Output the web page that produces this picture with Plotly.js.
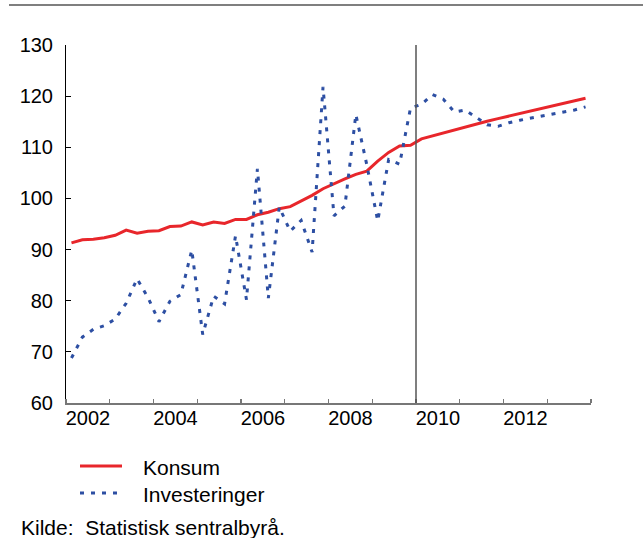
<!DOCTYPE html>
<html>
<head>
<meta charset="utf-8">
<script src="https://cdn.plot.ly/plotly-3.0.1.min.js"></script>
<style>
html,body{margin:0;padding:0;background:#fff;}
#chart{width:643px;height:538px;}
</style>
</head>
<body>
<div id="chart"></div>
<script>
// Quarterly categories (2002 Q1 – 2013 Q4)
var quarters = [
  "2002K1","2002K2","2002K3","2002K4","2003K1","2003K2","2003K3","2003K4",
  "2004K1","2004K2","2004K3","2004K4","2005K1","2005K2","2005K3","2005K4",
  "2006K1","2006K2","2006K3","2006K4","2007K1","2007K2","2007K3","2007K4",
  "2008K1","2008K2","2008K3","2008K4","2009K1","2009K2","2009K3","2009K4",
  "2010K1","2010K2","2010K3","2010K4","2011K1","2011K2","2011K3","2011K4",
  "2012K1","2012K2","2012K3","2012K4","2013K1","2013K2","2013K3","2013K4"
];
var konsum = [
  91.3, 91.9, 92.0, 92.3, 92.8, 93.8, 93.2, 93.6,
  93.7, 94.5, 94.6, 95.4, 94.8, 95.4, 95.1, 95.9,
  95.9, 96.8, 97.3, 98.0, 98.4, 99.5, 100.6, 101.9,
  102.9, 103.8, 104.7, 105.35, 107.3, 109.0, 110.25, 110.4,
  111.65, 112.25, 112.7, 113.3, 113.9, 114.5, 115.1, 115.6,
  116.1, 116.5, 117.0, 117.5, 118.0, 118.5, 119.0, 119.6
];
var investeringer = [
  68.8, 72.9, 74.4, 75.1, 76.4, 79.5, 84.3, 80.6,
  75.9, 79.9, 81.2, 89.9, 73.4, 80.9, 79.4, 92.7,
  80.2, 105.8, 80.5, 98.3, 93.6, 95.7, 89.5, 121.8,
  96.6, 98.5, 116.4, 106.6, 95.6, 107.6, 106.7, 117.7,
  118.4, 120.3, 119.4, 116.9, 117.3, 115.8, 114.4, 114.1,
  114.8, 115.3, 115.7, 116.2, 116.5, 116.9, 117.3, 117.9
];
var yearTicks = [2002,2003,2004,2005,2006,2007,2008,2009,2010,2011,2012,2013,2014];
var yearLabels = ["2002","2004","2006","2008","2010","2012"];
var yTicks = [60,70,80,90,100,110,120,130];
var seriesNames = ["Konsum","Investeringer"];
var markerYear = 2010;
var sourceText = "Kilde:\u00a0 Statistisk sentralbyrå.";

// position of each quarter at its mid-point on a numeric year axis
var xq = quarters.map(function(q){
  var y = parseInt(q.slice(0,4),10), k = parseInt(q.slice(5),10);
  return y + (k - 0.5) / 4;
});
var labelPos = yearLabels.map(function(s){ return parseInt(s,10) + 0.5; });

var FONT = "Liberation Sans, Arial, Helvetica, sans-serif";
var RED = "#e8262b", BLUE = "#2d4fa3";

var traces = [
  {x: xq, y: konsum, name: seriesNames[0], type: "scatter", mode: "lines",
   line: {color: RED, width: 3}, showlegend: false, hoverinfo: "x+y+name"},
  {x: xq, y: investeringer, name: seriesNames[1], type: "scatter", mode: "lines",
   line: {color: BLUE, width: 3, dash: "4px,7px"}, showlegend: false, hoverinfo: "x+y+name"}
];

var H = 358, W = 525, T = 45, L = 66;
function py(pix){ return (T + H - pix) / H; }
function px(pix){ return (pix - L) / W; }

var layout = {
  width: 643, height: 538,
  margin: {l: L, r: 643 - L - W, t: T, b: 538 - T - H, pad: 0},
  paper_bgcolor: "#fff", plot_bgcolor: "#fff",
  font: {family: FONT, size: 20, color: "#000"},
  showlegend: false,
  xaxis: {
    range: [2002, 2014], tickmode: "array", tickvals: labelPos, ticktext: yearLabels,
    ticks: "", ticklabelstandoff: -4,
    tickfont: {family: FONT, size: 20, color: "#000"},
    minor: {tickmode: "array", tickvals: yearTicks, ticks: "inside", ticklen: 4,
            tickwidth: 1.2, tickcolor: "#777", showgrid: false},
    showline: true, linecolor: "#777", linewidth: 1.5, showgrid: false, zeroline: false,
    fixedrange: true
  },
  yaxis: {
    range: [60, 130], tickmode: "array", tickvals: yTicks,
    ticks: "inside", ticklen: 5, tickwidth: 1, tickcolor: "#000",
    showline: true, linecolor: "#000", linewidth: 1, showgrid: false, zeroline: false,
    ticklabelstandoff: 8,
    tickfont: {family: FONT, size: 20, color: "#000"}, fixedrange: true
  },
  shapes: [
    {type: "line", xref: "x", yref: "paper", x0: markerYear, x1: markerYear, y0: 0, y1: 1,
     line: {color: "#555", width: 1.5}},
    {type: "line", xref: "paper", yref: "paper", x0: px(9), x1: px(643), y0: py(5), y1: py(5),
     line: {color: "#555", width: 1.5}},
    {type: "line", xref: "paper", yref: "paper", x0: px(80), x1: px(122), y0: py(466), y1: py(466),
     line: {color: RED, width: 3}},
    {type: "line", xref: "paper", yref: "paper", x0: px(80), x1: px(122), y0: py(493), y1: py(493),
     line: {color: BLUE, width: 3, dash: "4px,7px"}}
  ],
  annotations: [
    {xref: "paper", yref: "paper", x: px(141), y: py(467), xanchor: "left", yanchor: "middle",
     text: seriesNames[0], showarrow: false, font: {family: FONT, size: 21, color: "#000"}},
    {xref: "paper", yref: "paper", x: px(141), y: py(494), xanchor: "left", yanchor: "middle",
     text: seriesNames[1], showarrow: false, font: {family: FONT, size: 21, color: "#000"}},
    {xref: "paper", yref: "paper", x: px(19), y: py(527), xanchor: "left", yanchor: "middle",
     text: sourceText, showarrow: false, font: {family: FONT, size: 21, color: "#000"}}
  ]
};

Plotly.newPlot("chart", traces, layout, {displayModeBar: false, staticPlot: true});
</script>
</body>
</html>
